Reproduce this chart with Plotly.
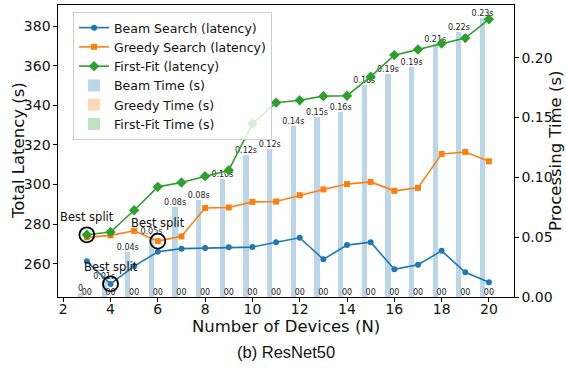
import plotly.graph_objects as go

devices = list(range(3, 21))
beam_latency = [261.2, 249.8, 258.8, 266.0, 267.6, 267.9, 268.3, 268.4, 270.8, 273.1,
                262.2, 269.4, 270.9, 257.2, 259.5, 266.5, 255.7, 250.6]
greedy_latency = [273.3, 274.3, 276.6, 271.4, 273.8, 288.1, 288.4, 291.2, 291.4, 294.6,
                  297.5, 300.2, 301.3, 296.8, 298.3, 315.4, 316.4, 311.7]
ff_latency = [274.6, 276.0, 287.0, 298.8, 301.0, 304.2, 307.2, 330.7, 341.3, 342.5,
              344.6, 344.8, 354.4, 365.3, 368.1, 371.2, 373.9, 383.4]
beam_time = [0.0036, 0.013, 0.038, 0.051, 0.0756, 0.081, 0.0985, 0.1188, 0.1238, 0.1425,
             0.150, 0.155, 0.1768, 0.186, 0.1919, 0.2115, 0.2212, 0.2329]
greedy_time = [0.0] * 18
ff_time = [0.0] * 18
beam_labels = ["0", "0.01s", "0.04s", "0.05s", "0.08s", "0.08s", "0.10s", "0.12s", "0.12s",
               "0.14s", "0.15s", "0.16s", "0.18s", "0.19s", "0.19s", "0.21s", "0.22s", "0.23s"]
zero_labels = ["00"] * 18
best_points = [(3, 274.6, 283.5), (6, 271.4, 280.4), (4, 249.8, 258.2)]

BLUE, ORANGE, GREEN = "#1f77b4", "#ff7f0e", "#2ca02c"
BLUE_A, ORANGE_A, GREEN_A = "rgba(31,119,180,0.3)", "rgba(255,127,14,0.3)", "rgba(44,160,44,0.3)"
FONT = "DejaVu Sans"
off = 0.27
w = 0.22

fig = go.Figure()
fig.add_trace(go.Scatter(x=devices, y=beam_latency, mode="lines+markers", name="Beam Search (latency)",
                         line=dict(color=BLUE, width=1.6), marker=dict(symbol="circle", size=6, color=BLUE),
                         yaxis="y2"))
fig.add_trace(go.Scatter(x=devices, y=greedy_latency, mode="lines+markers", name="Greedy Search (latency)",
                         line=dict(color=ORANGE, width=1.6), marker=dict(symbol="square", size=6, color=ORANGE),
                         yaxis="y2"))
fig.add_trace(go.Scatter(x=devices, y=ff_latency, mode="lines+markers", name="First-Fit (latency)",
                         line=dict(color=GREEN, width=1.6), marker=dict(symbol="diamond", size=8, color=GREEN),
                         yaxis="y2"))
fig.add_trace(go.Bar(x=[d - off for d in devices], y=beam_time, width=w, name="Beam Time (s)",
                     marker=dict(color=BLUE_A, line=dict(width=0)), yaxis="y"))
fig.add_trace(go.Bar(x=devices, y=greedy_time, width=w, name="Greedy Time (s)",
                     marker=dict(color=ORANGE_A, line=dict(width=0)), yaxis="y"))
fig.add_trace(go.Bar(x=[d + off for d in devices], y=ff_time, width=w, name="First-Fit Time (s)",
                     marker=dict(color=GREEN_A, line=dict(width=0)), yaxis="y"))
fig.add_trace(go.Scatter(x=[d - off for d in devices], y=beam_time, mode="text", text=beam_labels,
                         textposition="top center", textfont=dict(size=8, color="#222", family=FONT),
                         showlegend=False, hoverinfo="skip", yaxis="y", cliponaxis=False))
fig.add_trace(go.Scatter(x=devices, y=[0.003] * 18, mode="text", text=zero_labels,
                         textposition="middle center", textfont=dict(size=8, color="#222", family=FONT),
                         showlegend=False, hoverinfo="skip", yaxis="y", cliponaxis=False))
fig.add_trace(go.Scatter(x=[p[0] for p in best_points], y=[p[1] for p in best_points], mode="markers",
                         marker=dict(symbol="circle-open", size=15, color="black", line=dict(width=1.8)),
                         showlegend=False, hoverinfo="skip", yaxis="y2"))
for px, py, ty in best_points:
    fig.add_annotation(x=px, y=ty, xref="x", yref="y2", text="Best split", showarrow=False,
                       font=dict(size=11.5, color="#111", family=FONT))

fig.add_annotation(x=0.5, y=-0.1, xref="paper", yref="paper", text="Number of Devices (N)",
                   showarrow=False, font=dict(size=16.5, color="#111", family=FONT), yanchor="middle")
fig.add_annotation(x=-0.0877, y=0.5, xref="paper", yref="paper", text="Total Latency (s)", textangle=-90,
                   showarrow=False, font=dict(size=16.5, color="#111", family=FONT), xanchor="center")
fig.add_annotation(x=1.0899, y=0.5, xref="paper", yref="paper", text="Processing Time (s)", textangle=-90,
                   showarrow=False, font=dict(size=16.5, color="#111", family=FONT), xanchor="center")
fig.add_annotation(x=0.5, y=-0.188, xref="paper", yref="paper", text="(b) ResNet50", showarrow=False,
                   font=dict(size=16.5, color="#111", family="Liberation Sans"), yanchor="middle")

fig.update_layout(
    width=566, height=380,
    margin=dict(l=58, r=52, t=5, b=83, autoexpand=False),
    paper_bgcolor="white", plot_bgcolor="white",
    font=dict(family=FONT, color="#111", size=12),
    barmode="overlay", bargap=0,
    showlegend=True,
    legend=dict(x=0.033, y=0.976, xanchor="left", yanchor="top", bgcolor="rgba(255,255,255,0.8)",
                bordercolor="#cccccc", borderwidth=1, font=dict(size=12.5, family=FONT),
                tracegroupgap=0, itemwidth=30),
    xaxis=dict(range=[1.78, 21.06], tickvals=list(range(2, 21, 2)), showgrid=False, zeroline=False,
               showline=True, linecolor="black", linewidth=1.2, mirror=True, ticks="outside",
               ticklen=3.5, tickcolor="black", tickfont=dict(size=14), automargin=False,
               ticklabelstandoff=-4),
    yaxis=dict(range=[0, 0.244], side="right", tickvals=[0, 0.05, 0.10, 0.15, 0.20], tickformat=".2f",
               showgrid=False, zeroline=False, showline=True, linecolor="black", linewidth=1.2,
               ticks="outside", ticklen=3.5, tickcolor="black", tickfont=dict(size=14), automargin=False),
    yaxis2=dict(range=[243.2, 390.6], side="left", overlaying="y", tickvals=list(range(260, 381, 20)),
                showgrid=False, zeroline=False, showline=True, linecolor="black", linewidth=1.2,
                ticks="outside", ticklen=3.5, tickcolor="black", tickfont=dict(size=14), automargin=False),
)

fig.write_html("out.html", config={"displayModeBar": False},
               post_script="document.body.style.margin='0';")
